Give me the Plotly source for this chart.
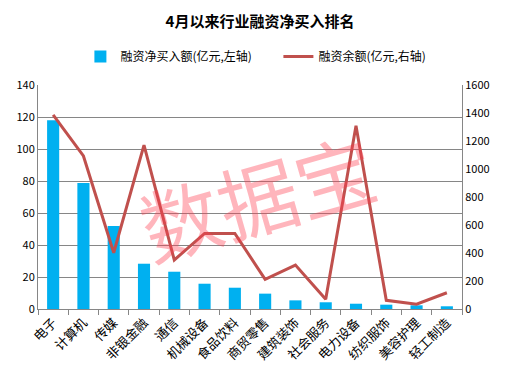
import plotly.graph_objects as go

categories = ["电子", "计算机", "传媒", "非银金融", "通信", "机械设备", "食品饮料",
              "商贸零售", "建筑装饰", "社会服务", "电力设备", "纺织服饰", "美容护理", "轻工制造"]
net_buy = [118, 78.7, 51.9, 28.3, 23.3, 15.8, 13.3, 9.6, 5.4, 4.2, 3.3, 2.7, 2.3, 1.7]
balance = [1386, 1093, 402, 1171, 350, 540, 540, 212, 314, 69, 1309, 62, 34, 116]

left_ticks = [0, 20, 40, 60, 80, 100, 120, 140]
right_ticks = [0, 200, 400, 600, 800, 1000, 1200, 1400, 1600]

font_sans = "Noto Sans CJK SC, DejaVu Sans, sans-serif"

fig = go.Figure()
fig.add_trace(go.Bar(x=categories, y=net_buy, name="融资净买入额(亿元,左轴)",
                     marker=dict(color="#00B0F0", line=dict(width=0)), width=0.4))
fig.add_trace(go.Scatter(x=categories, y=balance, name="融资余额(亿元,右轴)", yaxis="y2",
                         mode="lines", line=dict(color="#C0504D", width=3)))

fig.update_layout(
    width=504, height=369,
    margin=dict(l=30, r=50, t=77, b=68, autoexpand=False),
    paper_bgcolor="white", plot_bgcolor="white",
    title=dict(text="<b>4月以来行业融资净买入排名</b>", x=0.5, xanchor="center", y=0.962, yanchor="middle",
               font=dict(family=font_sans, size=15, color="#000")),
    legend=dict(orientation="h", x=0.10, xanchor="left", y=1.127, yanchor="middle",
                font=dict(family=font_sans, size=12, color="#000"), itemwidth=30,
                traceorder="normal", entrywidthmode="pixels", entrywidth=153),
    showlegend=True,
    xaxis=dict(type="category", tickangle=-45, showgrid=False, showline=True, linecolor="#868686",
               ticks="outside", tickson="boundaries", ticklen=5, tickcolor="#868686", automargin=False,
               tickfont=dict(family=font_sans, size=13, color="#000"), fixedrange=True),
    yaxis=dict(range=[0, 140], tickvals=left_ticks, showgrid=True, gridcolor="#868686", gridwidth=1,
               showline=True, linecolor="#868686", ticks="", zeroline=False, automargin=False,
               tickfont=dict(family=font_sans, size=11, color="#000")),
    yaxis2=dict(range=[0, 1600], tickvals=right_ticks, overlaying="y", side="right", showgrid=False,
                showline=True, linecolor="#868686", ticks="", zeroline=False, automargin=False,
                tickfont=dict(family=font_sans, size=11, color="#000")),
    annotations=[dict(text="数据宝", xref="paper", yref="paper", x=0.517, y=0.509, showarrow=False,
                      textangle=-16, font=dict(family=font_sans, size=80, color="rgba(255,60,80,0.38)"))],
)

fig.write_html("out.html")
